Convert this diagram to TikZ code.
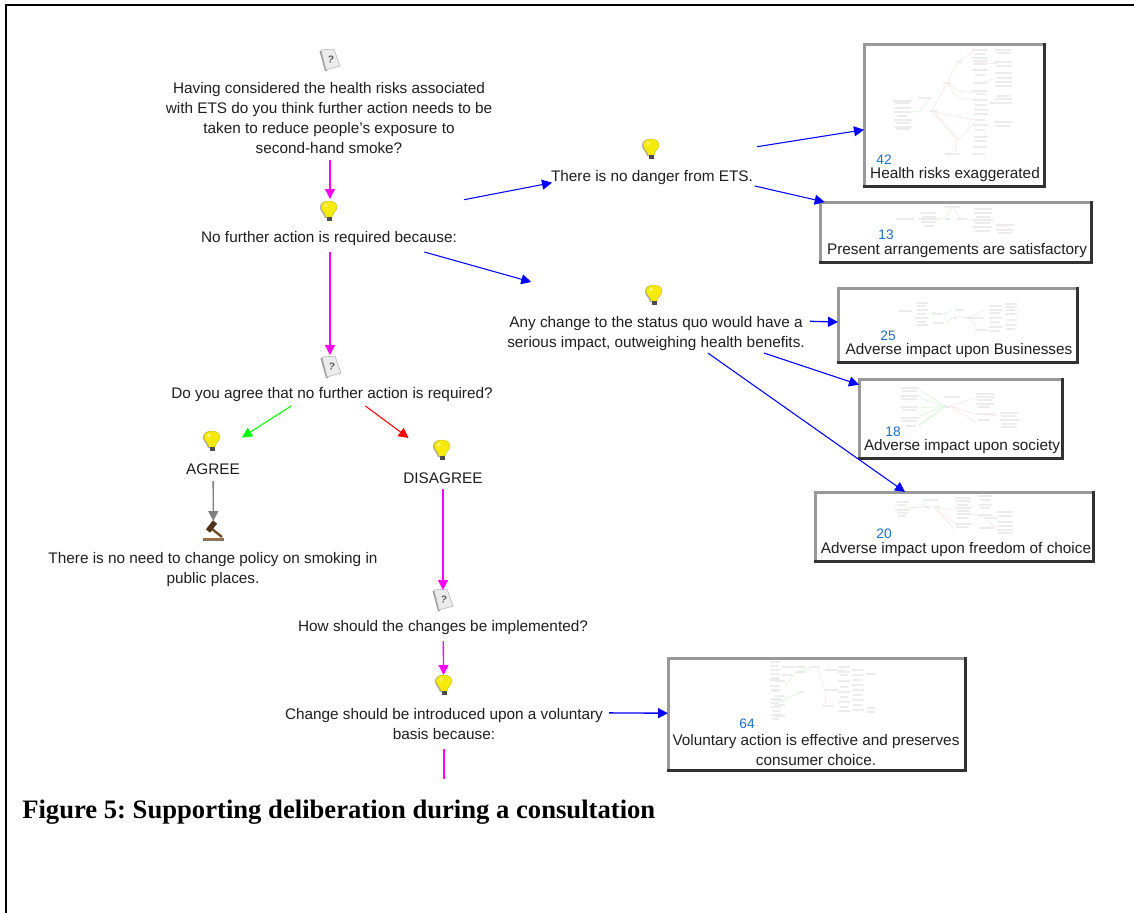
\documentclass[tikz,border=0pt]{standalone}
\usepackage{fontspec}
\setmainfont{Liberation Sans}
\newfontfamily\capfont{Liberation Serif}
\usetikzlibrary{arrows.meta,fit}
\definecolor{pinkln}{HTML}{FF00FF}
\definecolor{blueln}{HTML}{0000FF}
\definecolor{greenln}{HTML}{00FF00}
\definecolor{redln}{HTML}{FF0000}
\definecolor{grayln}{HTML}{808080}
\definecolor{numblue}{HTML}{1F6FC8}
\definecolor{boxlight}{HTML}{999999}
\definecolor{boxdark}{HTML}{333333}
\definecolor{barcol}{HTML}{ECECEC}
\definecolor{edgepink}{HTML}{F8E8E8}
\definecolor{edgegreen}{HTML}{E0F4E0}
\tikzset{
  x=0.75pt,y=-0.75pt,
  grp/.style={inner sep=0pt,outer sep=0pt},
  lbl/.style={align=center,inner sep=0pt,font=\fontsize{11.5pt}{15pt}\selectfont,text=black!88},
  num/.style={inner sep=0pt,font=\fontsize{10.3pt}{12pt}\selectfont,text=numblue},
  thumbbox/.style={grp,draw=boxlight,line width=2.25pt},
  conn/.style={line width=1pt,-{Triangle[length=7.5pt,width=7.5pt]}},
  thin conn/.style={line width=0.8pt,-{Triangle[length=7.5pt,width=7.5pt]}},
  pinkc/.style={conn,pinkln},
  bluec/.style={conn,blueln},
  bluethin/.style={thin conn,blueln},
  bar/.style={barcol,line width=1pt},
  epink/.style={edgepink,line width=0.5pt},
  egreen/.style={edgegreen,line width=0.5pt},
  bulbicon/.pic={
    \fill[black!35]
      (-4,7) .. controls (-5,2) and (-9,1) .. (-9,-3.5)
      .. controls (-9,-8) and (-5,-10) .. (-1,-10) -- (2,7) -- cycle;
    \fill[yellow!96!black,draw=yellow!75!black,line width=0.3pt]
      (-3,6) .. controls (-4,1) and (-8,0) .. (-8,-4)
      .. controls (-8,-8) and (-4,-10) .. (0,-10)
      .. controls (4,-10) and (8,-8) .. (8,-4)
      .. controls (8,0) and (4,1) .. (3,6) -- cycle;
    \fill[white!50!yellow] (-3,-5.5) circle (1.8);
    \fill[black!70] (-2.5,6) rectangle (2.5,10);
  },
  papericon/.pic={
    \fill[black!40] (-10.5,-9) -- (-5,11) -- (-3,11) -- (-3,-9) -- cycle;
    \fill[black!8,draw=black!30,line width=0.4pt] (-9,-10) -- (4,-11) -- (10,6) -- (-4,10) -- cycle;
    \node[inner sep=0pt,font=\bfseries\fontsize{7.5pt}{8pt}\selectfont,text=black!65,rotate=-8] at (1,-1) {?};
  },
  gavelicon/.pic={
    \fill[black!55] (-10,7) rectangle (11,10);
    \fill[brown!85!black] (-9,7) rectangle (10,9);
    \draw[brown!60!black,line width=1.8pt] (-1,-2) -- (9,6);
    \draw[brown!40!black,line width=4pt] (-5,0) -- (2,-9);
  },
}
\newcommand{\boxedge}[1]{\draw[boxdark,line width=2.25pt,line cap=rect] (#1.north east) -- (#1.south east) -- (#1.south west);}
\newcommand{\bars}[2]{\foreach \xa/\xb/\yy in {#2} \draw[bar,shift={(#1)}] (\xa,\yy) -- (\xb,\yy);}
\begin{document}
\begin{tikzpicture}
\useasboundingbox (0,0) rectangle (1134,913);
\fill[white] (0,0) rectangle (1134,913);
% page frame
\draw[black,line width=1.5pt] (5.5,913) -- (5.5,5.5) -- (1134,5.5);

% invisible groups: icon + text
\node[grp,fit={(196,47)(464,160)}] (q1) {};
\node[grp,fit={(196,199)(464,252)}] (nofurther) {};
\node[grp,fit={(552,140)(757,186)}] (danger) {};
\node[grp,fit={(505,282)(810,353)}] (anychange) {};
\node[grp,fit={(170,355)(492,406)}] (agreeq) {};
\node[grp,fit={(184,431)(242,481)}] (agree) {};
\node[grp,fit={(404,438)(482,489)}] (disagree) {};
\node[grp,fit={(45,521)(382,590)}] (nochange) {};
\node[grp,fit={(293,590)(593,641)}] (how) {};
\node[grp,fit={(279,675)(609,749)}] (voluntary) {};
\coordinate (cut) at (444,779);

% thumbnail boxes
\node[thumbbox,fit={(864,45)(1044,186)}] (b42) {};
\node[thumbbox,fit={(820,202)(1091,262)}] (b13) {};
\node[thumbbox,fit={(838,288)(1077,362)}] (b25) {};
\node[thumbbox,fit={(859,379)(1062,458)}] (b18) {};
\node[thumbbox,fit={(815,492)(1093,561)}] (b20) {};
\node[thumbbox,fit={(668,658)(965,770)}] (b64) {};

% thumbnail b42
\draw[egreen] (912,112) -- (920,111) -- (930,98);
\draw[epink] (932,111) -- (947,83) -- (958,62) -- (975,50);
\draw[epink] (932,111) -- (958,140) -- (975,122);
\draw[epink] (932,111) -- (957,138) -- (955,153);
\draw[epink] (947,83) -- (958,91) -- (975,93);
\draw[epink] (947,83) -- (958,99) -- (975,99);
\draw[epink] (932,111) -- (954,116) -- (975,120);
\draw[epink] (975,62) -- (998,64);
\draw[epink] (975,84) -- (998,78);
\bars{0,0}{893/912/101, 895/910/103, 894/911/108, 894/911/112, 897/907/116, 894/912/120, 896/910/123, 895/912/127, 896/910/129,
 918/932/98, 930/937/111, 943/951/83, 957/962/62, 972/988/50, 975/985/54, 972/988/58, 973/988/61, 974/986/64, 972/988/70, 975/985/75, 973/988/83,
 972/988/91, 976/985/94, 973/988/100, 975/987/105, 974/988/110, 974/988/114, 975/985/120, 973/988/125, 975/985/130, 974/988/137, 975/986/141, 973/987/147, 945/960/154, 972/985/154,
 995/1012/50, 997/1010/53, 994/1012/62, 996/1012/66, 995/1012/73, 997/1012/78, 995/1012/82, 996/1012/86, 994/1012/122, 996/1010/126, 995/1012/99, 997/1010/96, 990/1012/103}
% thumbnail b13
\draw[egreen] (935,218) -- (945,219) -- (952,207);
\draw[epink] (953,207) -- (960,218) -- (975,220);
\draw[epink] (995,225) -- (1010,228);
\bars{0,0}{896/914/219, 921/936/213, 922/936/217, 919/938/219, 921/936/222, 924/934/226, 945/950/219, 945/960/207, 957/966/219,
 974/992/209, 974/992/213, 976/990/217, 973/993/220, 975/991/223, 973/992/227, 975/990/231, 996/1014/225, 996/1014/230, 998/1012/233}
% thumbnail b25
\draw[egreen] (931,312) -- (944,315) -- (952,310);
\draw[egreen] (945,323) -- (952,318);
\draw[epink] (954,315) -- (966,318) -- (985,310);
\draw[epink] (970,318) -- (980,332);
\bars{0,0}{899/912/311, 916/928/303, 917/926/306, 916/928/310, 917/926/314, 915/928/318, 917/926/322, 916/928/325, 932/942/314, 933/944/323, 955/964/310, 953/957/318, 966/984/318, 975/988/330,
 989/1002/306, 989/1002/310, 990/1000/313, 989/1002/318, 990/1000/322, 989/1002/327, 990/1000/331, 1005/1017/304, 1005/1017/307, 1006/1015/310, 1005/1017/314, 1006/1015/320, 1005/1017/325, 1006/1015/329}
% thumbnail b18
\draw[egreen] (919,390) -- (946,406) -- (919,425);
\draw[egreen] (919,398) -- (946,406) -- (919,416);
\draw[egreen] (919,408) -- (946,406) -- (919,426);
\draw[epink] (950,406) -- (975,398);
\draw[epink] (950,406) -- (975,414) -- (1000,416);
\draw[epink] (950,406) -- (975,422);
\bars{0,0}{900/919/388, 902/917/391, 900/919/396, 901/917/399, 900/918/407, 902/916/410, 901/919/418, 902/917/421, 906/916/426, 944/950/407, 944/960/397,
 976/994/394, 976/994/397, 977/992/400, 976/994/404, 978/990/407, 976/994/414, 978/990/420, 1000/1018/413, 1001/1016/416, 1000/1019/420, 1002/1016/424, 1001/1017/427}
% thumbnail b20
\draw[egreen] (906,507) -- (920,508) -- (928,500);
\draw[epink] (932,507) -- (955,510);
\draw[epink] (935,508) -- (955,523);
\draw[epink] (935,508) -- (955,530);
\draw[epink] (972,514) -- (985,518) -- (998,530);
\bars{0,0}{896/909/502, 897/906/505, 895/910/510, 897/908/513, 898/906/516, 923/938/500, 924/930/507, 935/940/507,
 955/970/498, 956/970/501, 957/968/505, 955/971/508, 957/969/511, 956/971/514, 957/968/518, 955/971/524, 956/968/527,
 978/992/496, 980/990/500, 978/992/505, 980/990/508, 978/992/515, 985/997/518, 997/1013/512, 998/1012/516, 997/1013/522, 998/1012/526, 980/994/528, 997/1013/530, 998/1012/533}
% thumbnail b64
\draw[egreen] (785,686) -- (796,672) -- (810,668);
\draw[egreen] (780,702) -- (800,692);
\draw[epink] (818,668) -- (825,690) -- (826,706);
\draw[epink] (825,670) -- (845,670);
\bars{0,0}{770/780/686, 771/778/691, 771/781/699, 771/779/703, 771/781/707, 772/780/711, 771/781/715, 772/779/719,
 770/780/662, 770/778/666, 771/780/670, 770/780/674, 771/779/678, 770/780/680,
 775/785/681, 772/780/690, 775/785/696, 772/782/700, 775/785/705, 775/785/716, 782/795/667, 782/792/675, 796/806/667, 796/806/672, 810/820/667, 799/804/692, 825/838/670, 825/838/690, 822/833/706,
 838/850/667, 838/850/672, 840/848/675, 838/850/681, 840/848/687, 838/850/692, 840/848/697, 838/850/702, 840/848/707, 838/850/711,
 852/864/670, 852/864/675, 853/862/680, 852/864/685, 852/864/690, 853/862/695, 852/864/700, 853/862/705, 852/864/710, 866/876/674, 867/875/708, 867/875/712}
\foreach \b in {b42,b13,b25,b18,b20,b64}{\boxedge{\b}}

% icons
\pic at (330,60) {papericon};
\pic at (329,211) {bulbicon};
\pic at (651,149) {bulbicon};
\pic at (654,295) {bulbicon};
\pic at (331,367) {papericon};
\pic at (212,441) {bulbicon};
\pic at (442,450) {bulbicon};
\pic at (213,531) {gavelicon};
\pic at (443,600) {papericon};
\pic at (444,685) {bulbicon};

% texts
\node[lbl] (t1) at (329,118.5) {Having considered the health risks associated\\with ETS do you think further action needs to be\\taken to reduce people's exposure to\\second-hand smoke?};
\node[lbl] (t2) at (329,239) {No further action is required because:};
\node[lbl] (t3) at (652,178) {There is no danger from ETS.};
\node[lbl] (t4) at (656,334) {Any change to the status quo would have a\\serious impact, outweighing health benefits.};
\node[lbl] (t5) at (332,395) {Do you agree that no further action is required?};
\node[lbl] (t6) at (213,469) {AGREE};
\node[lbl] (t7) at (443,478) {DISAGREE};
\node[lbl] (t8) at (213,570) {There is no need to change policy on smoking in\\public places.};
\node[lbl] (t9) at (443,628) {How should the changes be implemented?};
\node[lbl] (t10) at (444,724) {Change should be introduced upon a voluntary\\basis because:};

\node[lbl] (l42) at (955,175) {Health risks exaggerated};
\node[lbl] (l13) at (957,251) {Present arrangements are satisfactory};
\node[lbl] (l25) at (959,351) {Adverse impact upon Businesses};
\node[lbl] (l18) at (962,447) {Adverse impact upon society};
\node[lbl] (l20) at (956,550) {Adverse impact upon freedom of choice};
\node[lbl] (l64) at (816,750) {Voluntary action is effective and preserves\\consumer choice.};
\node[num] (n42) at (884,160) {42};
\node[num] (n13) at (886,235) {13};
\node[num] (n25) at (888,336) {25};
\node[num] (n18) at (893,432) {18};
\node[num] (n20) at (884,534) {20};
\node[num] (n64) at (747,724) {64};

% connectors
\draw[pinkc] (q1) -- (nofurther);
\draw[pinkc] (nofurther) -- (agreeq.north -| nofurther);
\draw[conn,greenln,line width=0.8pt] (agreeq) -- (agree);
\draw[conn,redln,line width=0.8pt] (agreeq) -- (disagree);
\draw[conn,grayln] (agree) -- (nochange);
\draw[pinkc] (disagree) -- (how);
\draw[pinkc] (how) -- (voluntary);
\draw[pinkln,line width=1pt] (voluntary) -- (cut);
\draw[bluethin] (nofurther) -- (danger);
\draw[bluethin] (nofurther) -- (anychange);
\draw[bluethin] (danger) -- (b42);
\draw[bluethin] (danger) -- (b13);
\draw[bluec] (anychange) -- (b25);
\draw[bluethin] (anychange) -- (b18);
\draw[bluethin] (anychange) -- (b20);
\draw[bluec] (voluntary) -- (b64);

% caption
\node[anchor=west,inner sep=0pt,font=\capfont\bfseries\fontsize{19.98pt}{22pt}\selectfont,text=black] (caption) at (22,812) {\frenchspacing Figure 5: Supporting deliberation during a consultation};
\end{tikzpicture}
\end{document}
